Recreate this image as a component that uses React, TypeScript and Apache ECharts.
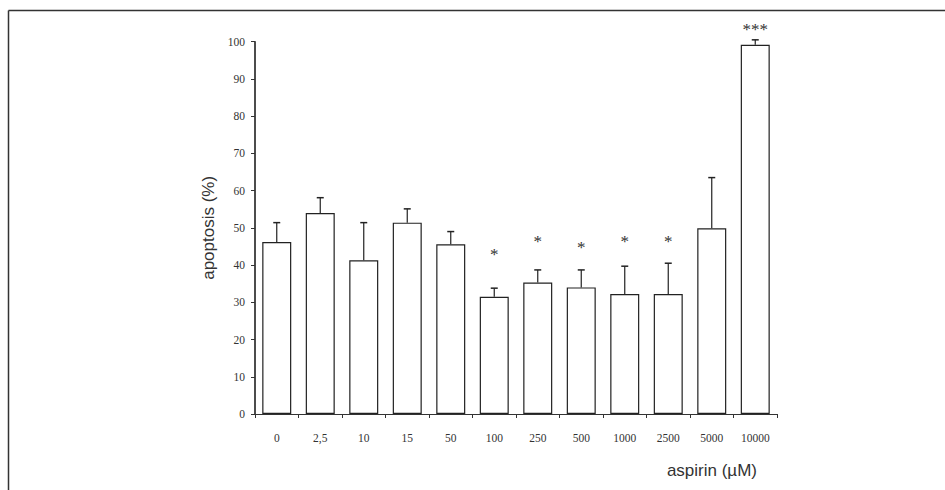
import React, { useEffect, useRef } from "react";
import * as echarts from "echarts";

const categories = ["0", "2,5", "10", "15", "50", "100", "250", "500", "1000", "2500", "5000", "10000"];
const meanValues = [46.2, 54.0, 41.3, 51.4, 45.6, 31.5, 35.3, 34.0, 32.2, 32.2, 49.9, 99.2];
const errorTops = [51.4, 58.1, 51.4, 55.1, 49.0, 33.8, 38.7, 38.7, 39.7, 40.5, 63.5, 100.5];
const starLabels = ["", "", "", "", "", "*", "*", "*", "*", "*", "", "***"];
const starValues = [0, 0, 0, 0, 0, 42.8, 46.3, 44.7, 46.3, 46.3, 0, 103.4];
const yTicks = [0, 10, 20, 30, 40, 50, 60, 70, 80, 90, 100];

export default function App() {
  const ref = useRef<HTMLDivElement>(null);
  useEffect(() => {
    document.body.style.margin = "0";
    const chart = echarts.init(ref.current!, null, { renderer: "svg" });
    const serif = "Liberation Serif";
    chart.setOption({
      animation: false,
      backgroundColor: "#ffffff",
      grid: { left: 255, right: 168, top: 41.7, bottom: 76, containLabel: false },
      xAxis: {
        type: "category",
        data: categories,
        axisLine: { lineStyle: { color: "#333", width: 1.2 } },
        axisTick: { show: true, length: 4, lineStyle: { color: "#333" } },
        axisLabel: { color: "#333", fontFamily: serif, fontSize: 11.5, margin: 18 },
      },
      yAxis: {
        type: "value",
        min: yTicks[0],
        max: yTicks[yTicks.length - 1],
        interval: 10,
        name: "apoptosis (%)",
        nameLocation: "middle",
        nameGap: 38,
        nameTextStyle: { fontFamily: "Liberation Sans", fontSize: 17, color: "#333" },
        axisLine: { show: true, lineStyle: { color: "#111", width: 1.5 } },
        axisTick: { show: true, length: 4, lineStyle: { color: "#333" } },
        splitLine: { show: false },
        axisLabel: { color: "#333", fontFamily: serif, fontSize: 11.5, margin: 10 },
      },
      graphic: [
        { type: "line", shape: { x1: 8.5, y1: 10.5, x2: 945, y2: 10.5 }, style: { stroke: "#333", lineWidth: 1.5 } },
        { type: "line", shape: { x1: 8.5, y1: 10.5, x2: 8.5, y2: 490 }, style: { stroke: "#333", lineWidth: 1.5 } },
        {
          type: "text",
          x: 757,
          y: 470,
          style: {
            text: "aspirin (µM)",
            fontFamily: "Liberation Sans",
            fontSize: 17,
            fill: "#333",
            align: "right",
            verticalAlign: "middle",
          },
        },
      ],
      series: [
        {
          type: "bar",
          data: meanValues,
          barWidth: 29,
          itemStyle: { color: "#ffffff", borderColor: "#222", borderWidth: 1.2 },
        },
        {
          type: "custom",
          data: categories.map((_, i) => [i, meanValues[i], errorTops[i]]),
          renderItem: (params: any, api: any) => {
            const i = api.value(0);
            const base = api.coord([i, api.value(1)]);
            const top = api.coord([i, api.value(2)]);
            const cap = 3.5;
            return {
              type: "group",
              children: [
                { type: "line", shape: { x1: base[0], y1: base[1], x2: top[0], y2: top[1] }, style: { stroke: "#222", lineWidth: 1.2 } },
                { type: "line", shape: { x1: top[0] - cap, y1: top[1], x2: top[0] + cap, y2: top[1] }, style: { stroke: "#222", lineWidth: 1.5 } },
              ],
            };
          },
          z: 3,
        },
        {
          type: "custom",
          data: categories.map((_, i) => [i, starValues[i], starLabels[i]]),
          renderItem: (params: any, api: any) => {
            const i = params.dataIndex;
            if (!starLabels[i]) return null;
            const p = api.coord([i, starValues[i]]);
            return {
              type: "text",
              x: p[0],
              y: p[1],
              style: {
                text: starLabels[i],
                fontFamily: serif,
                fontSize: 17,
                fill: "#333",
                align: "center",
                verticalAlign: "middle",
              },
            };
          },
          clip: false,
          z: 4,
        },
      ],
    });
    return () => chart.dispose();
  }, []);
  return <div ref={ref} style={{ width: 945, height: 490 }} />;
}
